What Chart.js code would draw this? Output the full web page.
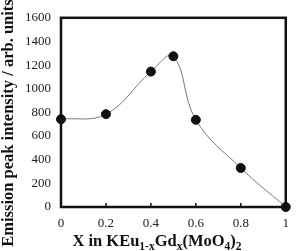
<!DOCTYPE html>
<html><head><meta charset="utf-8">
<script src="https://cdn.jsdelivr.net/npm/chart.js@4/dist/chart.umd.min.js"></script>
<style>html,body{margin:0;padding:0;background:#fff}#c{display:block}</style>
</head><body>
<canvas id="c" width="298" height="251"></canvas>
<script>
const xValues = [0, 0.2, 0.4, 0.5, 0.6, 0.8, 1];
const intensity = [742, 785, 1145, 1275, 737, 330, 0];
const xTicks = [0, 0.2, 0.4, 0.6, 0.8, 1];
const yTitle = 'Emission peak intensity / arb. units';
const xTitleParts = [['X in KEu',0],['1-x',1],['Gd',0],['x',1],['(MoO',0],['4',1],[')',0],['2',1]];

const serif = '"Liberation Serif","Times New Roman",serif';

const framePlugin = {
  id: 'frame',
  afterDraw(chart) {
    const {ctx, chartArea: a, scales} = chart;
    ctx.save();
    ctx.strokeStyle = '#111';
    ctx.lineWidth = 1.5;
    xTicks.forEach(v => {
      const px = scales.x.getPixelForValue(v);
      ctx.beginPath(); ctx.moveTo(px, a.bottom); ctx.lineTo(px, a.bottom - 4); ctx.stroke();
    });
    ctx.lineWidth = 2.5;
    ctx.strokeRect(a.left, a.top, a.right - a.left, a.bottom - a.top);
    // x title with subscripts
    ctx.fillStyle = '#111';
    ctx.textBaseline = 'alphabetic';
    ctx.textAlign = 'left';
    const big = 'bold 16.5px ' + serif, small = 'bold 11.5px ' + serif;
    let w = 0;
    xTitleParts.forEach(([t, s]) => { ctx.font = s ? small : big; w += ctx.measureText(t).width; });
    let x = 157 - w / 2;
    const base = 246;
    xTitleParts.forEach(([t, s]) => {
      ctx.font = s ? small : big;
      ctx.fillText(t, x, s ? base + 4 : base);
      x += ctx.measureText(t).width;
    });
    // y title
    ctx.save();
    ctx.translate(9, 123);
    ctx.rotate(-Math.PI / 2);
    ctx.textAlign = 'center';
    ctx.textBaseline = 'middle';
    ctx.font = 'bold 16.5px ' + serif;
    ctx.fillText(yTitle, 0, 0);
    ctx.restore();
    ctx.restore();
  }
};

new Chart(document.getElementById('c'), {
  type: 'line',
  data: {
    datasets: [{
      data: xValues.map((x, i) => ({x, y: intensity[i]})),
      borderColor: '#777',
      borderWidth: 1,
      tension: 0.4,
      pointRadius: 4.5,
      pointBackgroundColor: '#111',
      pointBorderColor: '#111',
      clip: false
    }]
  },
  options: {
    responsive: false,
    animation: false,
    devicePixelRatio: 1,
    layout: {padding: {top: 12, right: 8, left: 0, bottom: 0}},
    plugins: {legend: {display: false}, tooltip: {enabled: false}},
    scales: {
      x: {
        type: 'linear', min: 0, max: 1,
        afterBuildTicks: s => { s.ticks = xTicks.map(v => ({value: v})); },
        grid: {display: false, drawTicks: false},
        border: {display: false},
        ticks: {color: '#222', font: {family: serif, size: 13}, padding: 9,
          callback: v => String(v)},
        afterFit: s => { s.height = 44; }
      },
      y: {
        min: 0, max: 1600,
        ticks: {stepSize: 200, color: '#222', font: {family: serif, size: 13}, padding: 10,
          callback: v => String(v)},
        grid: {display: false, drawTicks: false},
        border: {display: false},
        afterFit: s => { s.width = 61; }
      }
    }
  },
  plugins: [framePlugin]
});
</script>
</body></html>
